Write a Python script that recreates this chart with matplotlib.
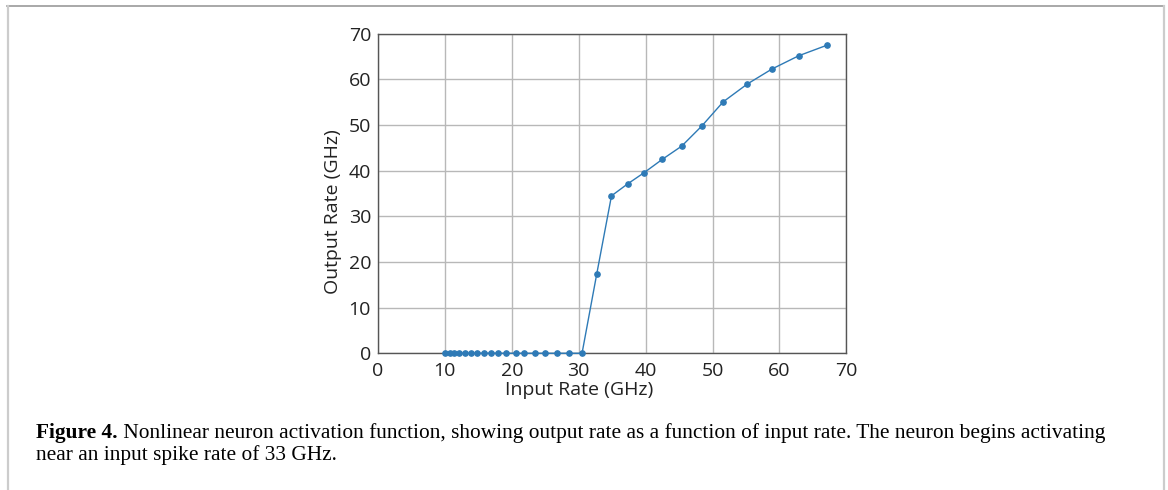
import matplotlib.pyplot as plt
from matplotlib.lines import Line2D

# input rate (GHz) and output rate (GHz)
input_rate = [10.0, 10.75, 11.4, 12.1, 13.0, 13.9, 14.8, 15.8, 16.9, 18.0,
              19.2, 20.6, 21.9, 23.4, 25.0, 26.8, 28.6, 30.5,
              32.7, 34.9, 37.3, 39.8, 42.5, 45.4, 48.4, 51.6, 55.2, 58.9,
              62.9, 67.1]
output_rate = [0, 0, 0, 0, 0, 0, 0, 0, 0, 0,
               0, 0, 0, 0, 0, 0, 0, 0,
               17.4, 34.5, 37.1, 39.6, 42.5, 45.4, 49.8, 55.1, 59.0, 62.3,
               65.2, 67.5]
xticks = [0, 10, 20, 30, 40, 50, 60, 70]
yticks = [0, 10, 20, 30, 40, 50, 60, 70]

caption_bold = "Figure 4."
caption_l1 = (" Nonlinear neuron activation function, showing output rate as a "
              "function of input rate. The neuron begins activating")
caption_l2 = "near an input spike rate of 33 GHz."

plt.rcParams['font.family'] = ['Open Sans', 'DejaVu Sans']

fig = plt.figure(figsize=(11.68, 4.90), dpi=100)
ax = fig.add_axes([0.3236, 0.279, 0.401, 0.652])

ax.plot(input_rate, output_rate, '-o', color='#2e7ab6', lw=1.0,
        ms=3.8, clip_on=False, zorder=3)

ax.set_xlim(0, 70)
ax.set_ylim(0, 70)
ax.set_xticks(xticks)
ax.set_yticks(yticks)
ax.tick_params(length=0, labelsize=14, colors='#222222')
ax.tick_params(axis='x', pad=6)
ax.tick_params(axis='y', pad=5)
ax.grid(True, color='#b8b8b8', lw=1.0)
ax.set_axisbelow(True)
for s in ax.spines.values():
    s.set_color('#555555')
    s.set_linewidth(1.0)

ax.set_xlabel('Input Rate (GHz)', fontsize=14, color='#222222')
ax.set_ylabel('Output Rate (GHz)', fontsize=14, color='#222222')
ax.xaxis.set_label_coords(0.43, -0.088)
ax.yaxis.set_label_coords(-0.077, 0.444)

# caption
t = fig.text(36 / 1168, 1 - 433 / 490, caption_bold, family='Liberation Serif',
             fontweight='bold', fontsize=15.4, va='center', ha='left')
fig.canvas.draw()
bb = t.get_window_extent()
fig.text(bb.x1 / 1168, 1 - 433 / 490, caption_l1, family='Liberation Serif',
         fontsize=15.4, va='center', ha='left')
fig.text(36 / 1168, 1 - 455 / 490, caption_l2, family='Liberation Serif',
         fontsize=15.4, va='center', ha='left')

# page frame
fig.add_artist(Line2D([7 / 1168, 1164 / 1168], [1 - 6 / 490, 1 - 6 / 490],
                      transform=fig.transFigure, color='#999999', lw=1.2))
fig.add_artist(Line2D([8 / 1168, 8 / 1168], [0, 1 - 6 / 490],
                      transform=fig.transFigure, color='#cccccc', lw=1.6))
fig.add_artist(Line2D([1164 / 1168, 1164 / 1168], [0, 1 - 6 / 490],
                      transform=fig.transFigure, color='#cccccc', lw=1.6))

fig.savefig('out.png', dpi=100)
